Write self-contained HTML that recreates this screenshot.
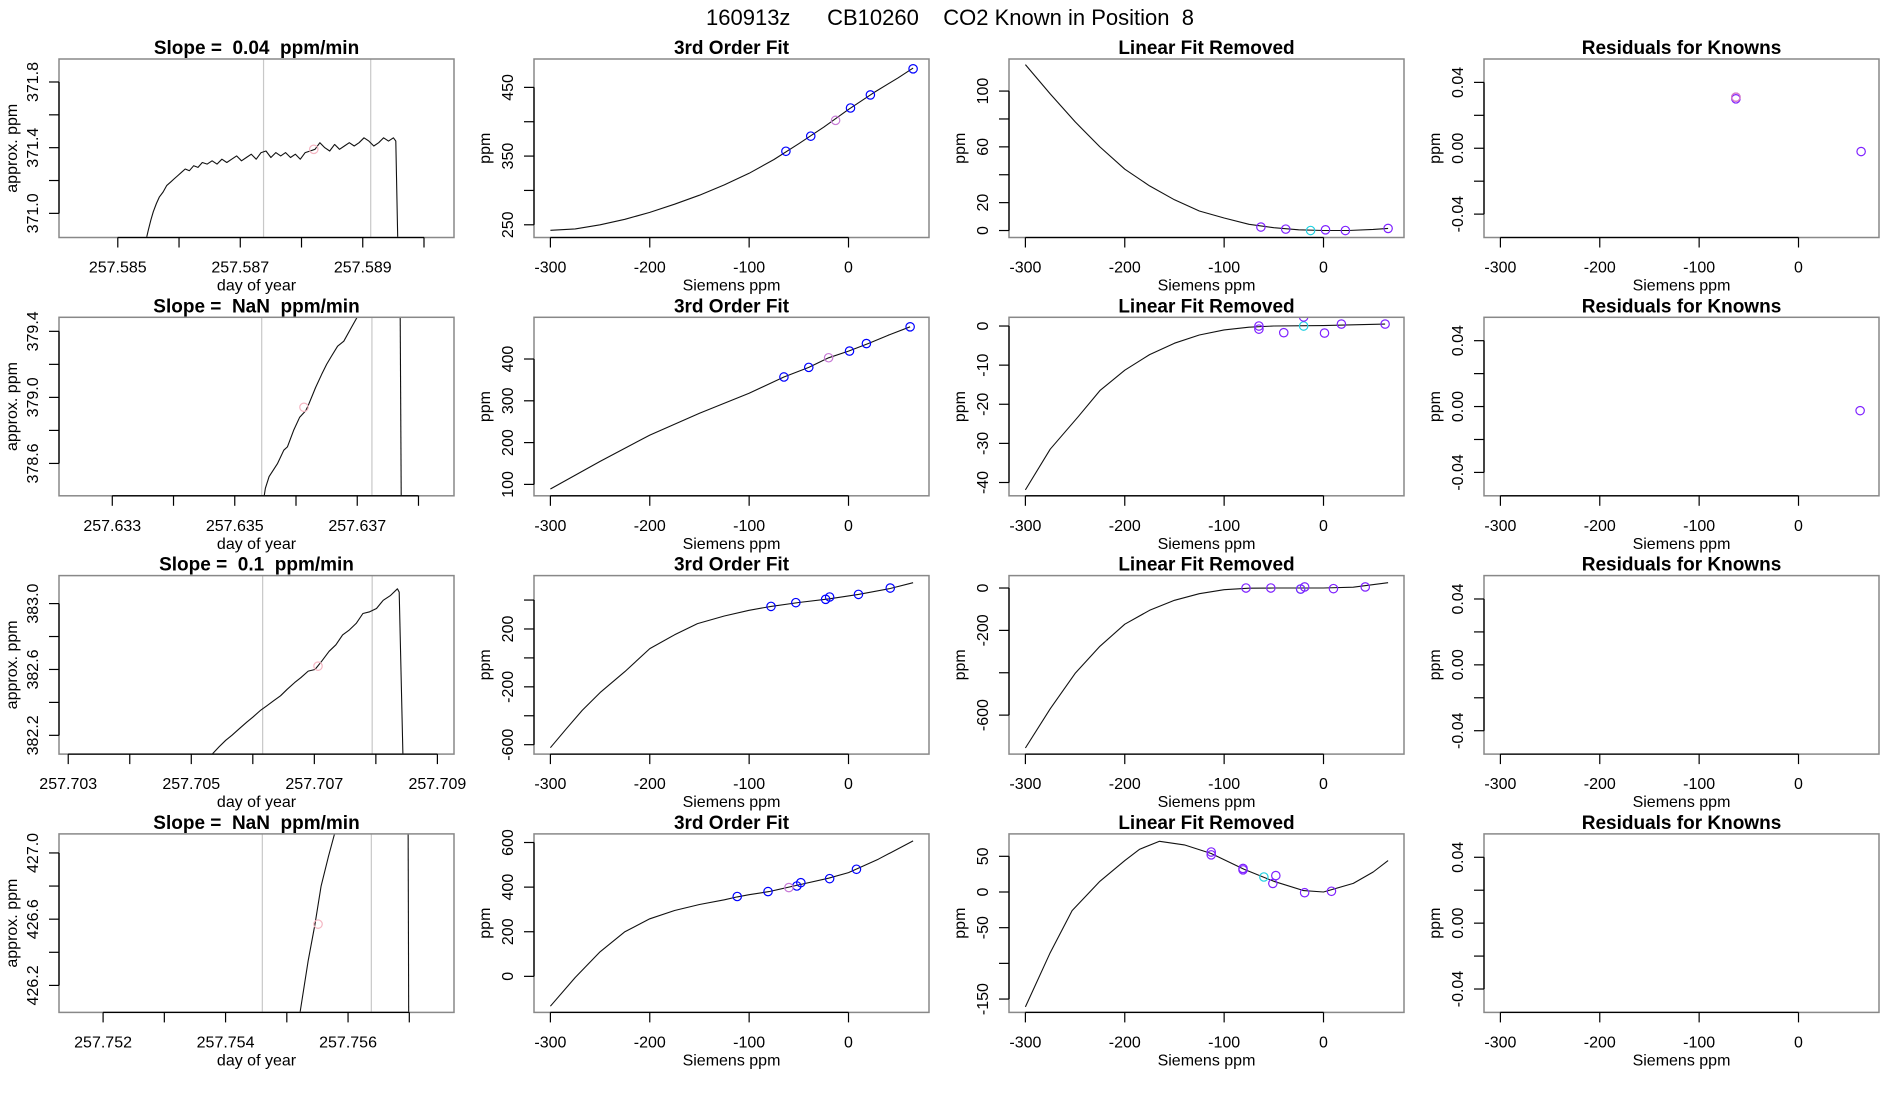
<!DOCTYPE html>
<html><head><meta charset="utf-8"><title>CO2 Known in Position 8</title>
<style>
html,body{margin:0;padding:0;background:#fff;}
svg{display:block;font-family:"Liberation Sans",Arial,sans-serif;}
</style></head>
<body>
<svg id="chart" width="1900" height="1100" viewBox="0 0 1900 1100" xmlns="http://www.w3.org/2000/svg">
<rect x="0" y="0" width="1900" height="1100" fill="#fff"/>
<text x="950" y="25" text-anchor="middle" font-size="22" style="white-space:pre" xml:space="preserve">160913z      CB10260    CO2 Known in Position  8</text>
</svg>
<script>
// ---------- DATA ----------
const r1Trace = [[257.58547,370.853],[257.58550,370.90],[257.58554,370.96],[257.58558,371.01],[257.58563,371.06],[257.58568,371.10],[257.58574,371.13],[257.58580,371.17],[257.58586,371.19],[257.58592,371.21],[257.58598,371.23],[257.58604,371.25],[257.58610,371.27],[257.58617,371.26],[257.58624,371.29],[257.58631,371.28],[257.58638,371.31],[257.58646,371.30],[257.58654,371.32],[257.58662,371.30],[257.58670,371.33],[257.58678,371.31],[257.58686,371.33],[257.58694,371.35],[257.58702,371.32],[257.58710,371.34],[257.58718,371.36],[257.58726,371.33],[257.58734,371.37],[257.58742,371.38],[257.58750,371.34],[257.58758,371.37],[257.58766,371.35],[257.58774,371.37],[257.58782,371.34],[257.58790,371.36],[257.58798,371.33],[257.58806,371.37],[257.58814,371.38],[257.58822,371.39],[257.58830,371.43],[257.58838,371.40],[257.58846,371.38],[257.58854,371.42],[257.58862,371.39],[257.58870,371.41],[257.58878,371.43],[257.58886,371.41],[257.58894,371.43],[257.58902,371.46],[257.58910,371.44],[257.58918,371.41],[257.58926,371.43],[257.58934,371.46],[257.58942,371.44],[257.58950,371.46],[257.58954,371.44],[257.58957,370.853]];
const r2Trace = [[257.63548,378.404],[257.63550,378.45],[257.63556,378.52],[257.63570,378.60],[257.63580,378.68],[257.63586,378.70],[257.63596,378.80],[257.63606,378.88],[257.63616,378.92],[257.63620,378.95],[257.63632,379.06],[257.63642,379.14],[257.63650,379.20],[257.63658,379.25],[257.63668,379.31],[257.63678,379.34],[257.63690,379.42],[257.63702,379.50]];
const r2Drop = [[257.63770,379.6],[257.63772,378.3]];
const r3Trace = [[257.70534,382.086],[257.70545,382.13],[257.70556,382.17],[257.70566,382.20],[257.70578,382.24],[257.70590,382.28],[257.70600,382.31],[257.70612,382.35],[257.70623,382.38],[257.70634,382.41],[257.70645,382.44],[257.70656,382.48],[257.70668,382.52],[257.70678,382.55],[257.70690,382.59],[257.70701,382.60],[257.70712,382.65],[257.70724,382.71],[257.70735,382.75],[257.70746,382.81],[257.70757,382.84],[257.70768,382.88],[257.70779,382.94],[257.70790,382.95],[257.70801,382.97],[257.70812,383.02],[257.70824,383.05],[257.70835,383.09],[257.70838,383.07],[257.70844,382.086]];
const r4Trace = [[257.75520,426.0],[257.75535,426.35],[257.75546,426.57],[257.75556,426.80],[257.75568,426.98],[257.75579,427.13]];
const r4Drop = [[257.75698,427.2],[257.75699,426.0]];
const timeMarks = [[257.5882,371.39],[257.63613,378.94],[257.70706,382.62],[257.75551,426.57]];
const timeVlines = [[257.58738,257.58913],[257.63544,257.63724],[257.70616,257.70794],[257.75460,257.75638]];
const timeXlim = [[257.58404,257.59049],[257.63213,257.63858],[257.70285,257.70927],[257.75128,257.75773]];
const timeYlim = [[370.853,371.94],[378.404,379.485],[382.086,383.17],[426.037,427.115]];
const timeXticks = [[257.585,257.586,257.587,257.588,257.589,257.590],[257.633,257.634,257.635,257.636,257.637,257.638],[257.703,257.704,257.705,257.706,257.707,257.708,257.709],[257.752,257.753,257.754,257.755,257.756,257.757]];
const timeXlabels = [["257.585","","257.587","","257.589",""],["257.633","","257.635","","257.637",""],["257.703","","257.705","","257.707","","257.709"],["257.752","","257.754","","257.756",""]];
const timeYticks = [[371.0,371.2,371.4,371.6,371.8],[378.6,378.8,379.0,379.2,379.4],[382.2,382.4,382.6,382.8,383.0],[426.2,426.4,426.6,426.8,427.0]];
const timeYlabels = [["371.0","","371.4","","371.8"],["378.6","","379.0","","379.4"],["382.2","","382.6","","383.0"],["426.2","","426.6","","427.0"]];
const slopeTitles = ["Slope =  0.04  ppm/min","Slope =  NaN  ppm/min","Slope =  0.1  ppm/min","Slope =  NaN  ppm/min"];

const fitCurve1 = [[-300,242],[-275,244],[-250,250],[-225,258],[-200,268],[-175,280],[-150,293],[-125,308],[-100,325],[-75,345],[-50,368],[-25,392],[0,418],[25,442],[50,464],[65,478]];
const fitCurve2 = [[-300,89],[-250,155],[-200,218],[-150,270],[-100,318],[-65,357],[-40,380],[-20,403],[0,419],[20,437],[40,457],[62,477]];
const fitCurve3 = [[-300,-621],[-284,-490],[-268,-363],[-250,-240],[-225,-95],[-200,64],[-175,160],[-152,237],[-125,290],[-100,329],[-78,356],[-50,383],[-20,408],[10,439],[42,480],[65,520]];
const fitCurve4 = [[-300,-134],[-275,-5],[-250,110],[-225,200],[-200,258],[-175,295],[-150,322],[-125,343],[-112,356],[-100,366],[-80,380],[-50,410],[-20,440],[0,465],[30,525],[65,607]];
const fitBlue1 = [[-63,357],[-38,379],[2,420],[22,439],[65,477]];
const fitBlue2 = [[-65,357],[-40,380],[1,419],[18,437],[62,477]];
const fitBlue3 = [[-78,356],[-53,382],[-23,405],[-19,421],[10,439],[42,483]];
const fitBlue4 = [[-112,358],[-81,380],[-52,405],[-48,420],[-19,438],[8,480]];
const fitPink1 = [[-13,402]];
const fitPink2 = [[-20,403]];
const fitPink3 = [];
const fitPink4 = [[-60,398]];
const fitYlim = [[231.5,491.3],[72.7,499.8],[-665,569],[-161.6,638.6]];
const fitYticks = [[250,300,350,400,450],[100,200,300,400],[-600,-400,-200,0,200,400],[0,200,400,600]];
const fitYlabels = [["250","","350","","450"],["100","200","300","400"],["-600","","-200","","200",""],["0","200","400","600"]];

const linCurve1 = [[-300,119],[-275,98],[-250,78],[-225,60],[-200,44],[-175,32],[-150,22],[-125,14],[-100,9],[-75,4.5],[-50,2],[-25,0.5],[0,0],[25,0],[50,0.8],[65,1.5]];
const linCurve2 = [[-300,-41.9],[-275,-31.5],[-247,-23.2],[-225,-16.5],[-200,-11.3],[-175,-7.3],[-150,-4.4],[-125,-2.3],[-100,-1.0],[-75,-0.3],[-50,0],[0,0.1],[30,0.3],[62,0.5]];
const linCurve3 = [[-300,-755],[-275,-570],[-250,-403],[-225,-275],[-200,-171],[-175,-105],[-150,-58],[-125,-27],[-100,-8],[-75,-1],[-50,0],[-25,0],[0,0],[30,4],[65,25]];
const linCurve4 = [[-300,-161],[-275,-85],[-253,-26],[-225,15],[-200,44],[-185,60],[-165,71],[-140,66],[-113,54],[-80,32],[-50,15],[-20,2],[0,0],[30,12],[50,28],[65,44]];
const linPurple1 = [[-63,2.5],[-38,1],[2,0.5],[22,0],[65,1.5]];
const linPurple2 = [[-65,0],[-65,-0.8],[-40,-1.7],[-20,2.3],[1,-1.8],[18,0.5],[62,0.5]];
const linPurple3 = [[-78,0],[-53,0],[-23,-5],[-19,5],[10,-3],[42,5]];
const linPurple4 = [[-113,56],[-113,52],[-81,33],[-81,31],[-51,12],[-48,23],[-19,-1],[8,1]];
const linCyan1 = [[-13,0]];
const linCyan2 = [[-20,0]];
const linCyan3 = [[-23,-5]];
const linCyan4 = [[-60,21]];
const linYlim = [[-5,123],[-43.4,2.23],[-784,58.6],[-168.7,81.4]];
const linYticks = [[0,20,40,60,80,100],[-40,-30,-20,-10,0],[-600,-400,-200,0],[-150,-100,-50,0,50]];
const linYlabels = [["0","20","","60","","100"],["-40","-30","-20","-10","0"],["-600","","-200","0"],["-150","","-50","0","50"]];

const resPurple1 = [[-63,0.031],[-63,0.030],[63,-0.002]];
const resPink1 = [[-63,0.031]];
const resPurple2 = [[62,-0.0025]];
const resPurple3 = [];
const resPurple4 = [];
const resYlim = [-0.0542,0.0542];
const resYticks = [-0.04,-0.02,0,0.02,0.04];
const resYlabels = ["-0.04","","0.00","","0.04"];

const sieXlim = [-316.5,81];
const sieXticks = [-300,-200,-100,0];
const sieXlabels = ["-300","-200","-100","0"];

// ---------- RENDER ----------
const NS = "http://www.w3.org/2000/svg";
const svg = document.getElementById('chart');
const COL0 = 59, COLSTEP = 475, PW = 395, ROW0 = 59, ROWSTEP = 258.3, PH = 178.5;
function mk(tag, attrs, parent){ const e = document.createElementNS(NS, tag); for (const k in attrs) e.setAttribute(k, attrs[k]); (parent||svg).appendChild(e); return e; }
let clipId = 0;

function panel(r, c, o){
  const L = COL0 + c*COLSTEP, T = ROW0 + r*ROWSTEP, R = L+PW, B = T+PH;
  const sx = v => L + (v - o.xlim[0])/(o.xlim[1]-o.xlim[0])*PW;
  const sy = v => B - (v - o.ylim[0])/(o.ylim[1]-o.ylim[0])*PH;
  const g = mk('g', {});
  
  
  const cid = 'clip' + (clipId++);
  const cp = mk('clipPath', {id: cid}, g);
  mk('rect', {x: L, y: T, width: PW, height: PH}, cp);
  const plot = mk('g', {'clip-path': 'url(#' + cid + ')'}, g);
  
  
  (o.vlines||[]).forEach(v => {
    const ln = mk('line', {x1: sx(v), x2: sx(v), y1: T, y2: B, stroke: '#c8c8c8', 'stroke-width': 1.2}, plot);
    
    
  });
  (o.lines||[]).forEach(arr => {
    const p = mk('polyline', {points: arr.map(d => sx(d[0]).toFixed(1)+','+sy(d[1]).toFixed(1)).join(' '), fill: 'none', stroke: '#111', 'stroke-width': 1.1, 'stroke-linejoin': 'round'}, plot);
    
    
  });
  (o.points||[]).forEach(set => {
    set.data.forEach(d => {
      const ci = mk('circle', {cx: sx(d[0]), cy: sy(d[1]), r: 4.2, fill: 'none', stroke: set.color, 'stroke-width': 1.2}, plot);
      
      
    });
  });
  const box = mk('rect', {x: L, y: T, width: PW, height: PH, fill: 'none', stroke: '#888', 'stroke-width': 1.5}, g);
  
  
  const xt = o.xticks;
  const xa = mk('line', {x1: sx(xt[0]), x2: sx(xt[xt.length-1]), y1: B, y2: B, stroke: '#000', 'stroke-width': 1.3}, g);
  
  
  xt.forEach((v, i) => {
    mk('line', {x1: sx(v), x2: sx(v), y1: B, y2: B+10, stroke: '#000', 'stroke-width': 1.2}, g);
    if (o.xlabels[i]) {
      const t = mk('text', {x: sx(v), y: B+35, 'text-anchor': 'middle', 'font-size': 16}, g);
      
      
      t.textContent = o.xlabels[i];
    }
  });
  const yt = o.yticks;
  const ya = mk('line', {x1: L, x2: L, y1: sy(yt[0]), y2: sy(yt[yt.length-1]), stroke: '#000', 'stroke-width': 1.3}, g);
  
  
  yt.forEach((v, i) => {
    mk('line', {x1: L-10, x2: L, y1: sy(v), y2: sy(v), stroke: '#000', 'stroke-width': 1.2}, g);
    if (o.ylabels[i]) {
      const xx = L-21, yy = sy(v);
      const t = mk('text', {x: xx, y: yy, 'text-anchor': 'middle', 'font-size': 16, transform: 'rotate(-90 '+xx+' '+yy+')'}, g);
      
      
      t.textContent = o.ylabels[i];
    }
  });
  const tt = mk('text', {x: (L+R)/2, y: T-5, 'text-anchor': 'middle', 'font-size': 19, 'font-weight': 'bold', style: 'white-space:pre'}, g);
  
  
  tt.textContent = o.title;
  const xl = mk('text', {x: (L+R)/2, y: B+53, 'text-anchor': 'middle', 'font-size': 16}, g);
  
  
  xl.textContent = o.xtitle;
  const yx = L - o.yoff, yy = (T+B)/2;
  const yl = mk('text', {x: yx, y: yy, 'text-anchor': 'middle', 'font-size': 16, transform: 'rotate(-90 '+yx+' '+yy+')'}, g);
  
  
  yl.textContent = o.ytitle;
}

const traces = [[r1Trace],[r2Trace, r2Drop],[r3Trace],[r4Trace, r4Drop]];
const fitCurves = [fitCurve1, fitCurve2, fitCurve3, fitCurve4];
const fitBlues = [fitBlue1, fitBlue2, fitBlue3, fitBlue4];
const fitPinks = [fitPink1, fitPink2, fitPink3, fitPink4];
const linCurves = [linCurve1, linCurve2, linCurve3, linCurve4];
const linPurples = [linPurple1, linPurple2, linPurple3, linPurple4];
const linCyans = [linCyan1, linCyan2, linCyan3, linCyan4];
const resPurples = [resPurple1, resPurple2, resPurple3, resPurple4];
const resPinks = [resPink1, [], [], []];

for (let r = 0; r < 4; r++) {
  panel(r, 0, {name: 'raw-trace-panel-' + (r+1), title: slopeTitles[r], xtitle: 'day of year', ytitle: 'approx. ppm', yoff: 42,
    xlim: timeXlim[r], ylim: timeYlim[r], xticks: timeXticks[r], xlabels: timeXlabels[r], yticks: timeYticks[r], ylabels: timeYlabels[r],
    vlines: timeVlines[r], lines: traces[r], points: [{name: 'sample-mark', color: '#f4b6c2', data: [timeMarks[r]]}]});
  panel(r, 1, {name: 'third-order-fit-panel-' + (r+1), title: '3rd Order Fit', xtitle: 'Siemens ppm', ytitle: 'ppm', yoff: 44,
    xlim: sieXlim, ylim: fitYlim[r], xticks: sieXticks, xlabels: sieXlabels, yticks: fitYticks[r], ylabels: fitYlabels[r],
    lines: [fitCurves[r]], points: [{name: 'known-point', color: '#0000ff', data: fitBlues[r]}, {name: 'sample-point', color: '#c77ad6', data: fitPinks[r]}]});
  panel(r, 2, {name: 'linear-fit-removed-panel-' + (r+1), title: 'Linear Fit Removed', xtitle: 'Siemens ppm', ytitle: 'ppm', yoff: 44,
    xlim: sieXlim, ylim: linYlim[r], xticks: sieXticks, xlabels: sieXlabels, yticks: linYticks[r], ylabels: linYlabels[r],
    lines: [linCurves[r]], points: [{name: 'sample-point', color: '#22d0e0', data: linCyans[r]}, {name: 'known-point', color: '#7f22ff', data: linPurples[r]}]});
  panel(r, 3, {name: 'residuals-panel-' + (r+1), title: 'Residuals for Knowns', xtitle: 'Siemens ppm', ytitle: 'ppm', yoff: 44,
    xlim: sieXlim, ylim: resYlim, xticks: sieXticks, xlabels: sieXlabels, yticks: resYticks, ylabels: resYlabels,
    lines: [], points: [{name: 'residual-point', color: '#7f22ff', data: resPurples[r]}, {name: 'residual-sample', color: '#e080c0', data: resPinks[r]}]});
}
</script>
</body></html>
